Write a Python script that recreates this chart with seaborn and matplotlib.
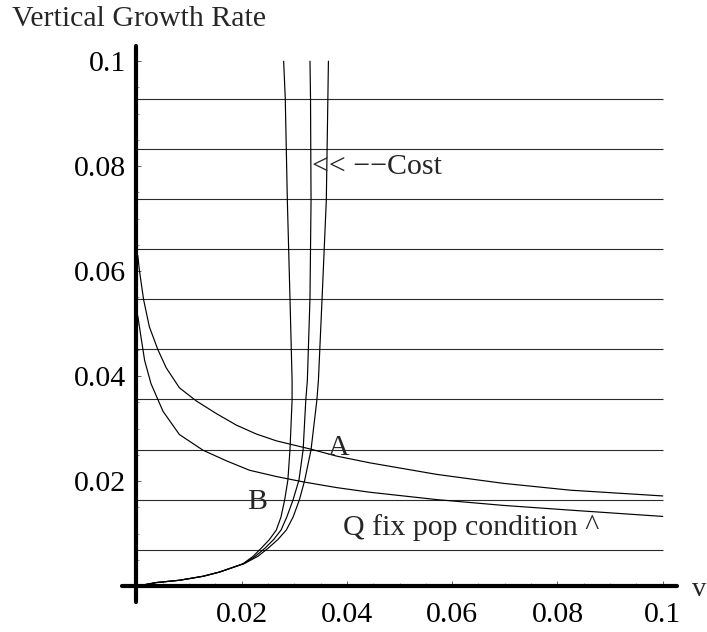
import matplotlib
matplotlib.use("Agg")
import matplotlib.pyplot as plt
import seaborn as sns
from matplotlib.ticker import FixedLocator, FixedFormatter, MultipleLocator

# ---------------- data ----------------
grid_levels = [0.0069, 0.0164, 0.0260, 0.0356, 0.0451, 0.0547, 0.0642, 0.0737, 0.0833, 0.0929]

cost_y = [0, 0.0007, 0.00114, 0.0019, 0.0027, 0.0036, 0.0043, 0.0057, 0.0072, 0.0089,
          0.0107, 0.0132, 0.0165, 0.0202, 0.0260, 0.0354, 0.0392, 0.0549, 0.0735, 0.0931, 0.1]
cost_left_x = [0, 0.0038, 0.0082, 0.0127, 0.0158, 0.0184, 0.0203, 0.0222, 0.0237, 0.0253,
               0.0266, 0.0275, 0.0282, 0.0288, 0.0292, 0.0296, 0.0296, 0.0292, 0.0287, 0.0283, 0.0280]
cost_mid_x = [0, 0.0038, 0.0082, 0.0127, 0.0158, 0.0184, 0.0204, 0.0226, 0.0244, 0.0261,
              0.0275, 0.0286, 0.0298, 0.0309, 0.0317, 0.0322, 0.0325, 0.0330, 0.0332, 0.0331, 0.0330]
cost_right_x = [0, 0.0038, 0.0082, 0.0127, 0.0158, 0.0184, 0.0205, 0.0231, 0.0250, 0.0269,
                0.0285, 0.0298, 0.0310, 0.0320, 0.0332, 0.0343, 0.0346, 0.0353, 0.0361, 0.0364, 0.0365]

qa_x = [0.0003, 0.0006, 0.0014, 0.0025, 0.0041, 0.0057, 0.0082, 0.0114, 0.0152, 0.0190,
        0.0228, 0.0266, 0.0332, 0.0380, 0.0444, 0.0571, 0.0697, 0.0824, 0.1]
qa_y = [0.0630, 0.0602, 0.0546, 0.0494, 0.0451, 0.0416, 0.0378, 0.0353, 0.0329, 0.0307,
        0.0290, 0.0277, 0.0261, 0.0248, 0.0235, 0.0213, 0.0196, 0.0183, 0.0172]

qb_x = [0.0003, 0.0009, 0.0016, 0.0028, 0.0051, 0.0082, 0.0127, 0.0171, 0.0215, 0.0266,
        0.0316, 0.0380, 0.0444, 0.0571, 0.0697, 0.0824, 0.1]
qb_y = [0.0515, 0.0475, 0.0430, 0.0386, 0.0333, 0.0289, 0.0259, 0.0239, 0.0221, 0.0209,
        0.0199, 0.0188, 0.0179, 0.0165, 0.0154, 0.0145, 0.0133]

xtick_vals = [0.02, 0.04, 0.06, 0.08, 0.1]
xtick_labels = ["0.02", "0.04", "0.06", "0.08", "0.1"]
ytick_vals = [0.02, 0.04, 0.06, 0.08, 0.1]
ytick_labels = ["0.02", "0.04", "0.06", "0.08", "0.1"]

# ---------------- figure ----------------
sns.set_theme(style="white")
plt.rcParams['font.family'] = ['Liberation Serif', 'DejaVu Serif']
FS = 21.5

fig = plt.figure(figsize=(7.07, 6.32), dpi=100)
ax = fig.add_axes([122 / 707, (632 - 602) / 632, 555 / 707, 556 / 632])
ax.set_facecolor("white")

ax.hlines(grid_levels, 0, 0.1, colors="#2a2a2a", linewidth=0.8)

line_kw = dict(color="black", linewidth=0.85, sort=False, estimator=None, ax=ax)
for xs in (cost_left_x, cost_mid_x, cost_right_x):
    sns.lineplot(x=xs, y=cost_y, **line_kw)
sns.lineplot(x=qa_x, y=qa_y, **line_kw)
sns.lineplot(x=qb_x, y=qb_y, **line_kw)

ax.set_xlim(-0.0027, 0.1027)
ax.set_ylim(-0.003, 0.1029)

for s in ("top", "right"):
    ax.spines[s].set_visible(False)
for s in ("left", "bottom"):
    ax.spines[s].set_position(("data", 0))
    ax.spines[s].set_linewidth(3.0)
    ax.spines[s].set_color("black")
    ax.spines[s].set_capstyle("round")

ax.xaxis.set_major_locator(FixedLocator(xtick_vals))
ax.xaxis.set_major_formatter(FixedFormatter(xtick_labels))
ax.yaxis.set_major_locator(FixedLocator(ytick_vals))
ax.yaxis.set_major_formatter(FixedFormatter(ytick_labels))
ax.xaxis.set_minor_locator(MultipleLocator(0.005))
ax.yaxis.set_minor_locator(MultipleLocator(0.005))
ax.tick_params(which="major", direction="in", length=3.5, width=0.6, color="#444444",
               labelsize=FS, labelcolor="black")
ax.tick_params(which="minor", direction="in", length=2, width=0.5, color="#666666")
ax.tick_params(axis="x", which="major", pad=11)
ax.tick_params(axis="y", which="major", pad=7.5)
ax.tick_params(bottom=True, left=True, which="both")
ax.set_xlabel("")
ax.set_ylabel("")

ax.text(0.0334, 0.0799, "<< −−Cost", fontsize=FS, ha="left", va="center")
ax.text(0.0384, 0.0263, "A", fontsize=FS, ha="center", va="center")
ax.text(0.0230, 0.0161, "B", fontsize=FS, ha="center", va="center")
ax.text(0.0392, 0.0112, "Q fix pop condition ^", fontsize=FS, ha="left", va="center")

fig.text(692 / 707, (632 - 589) / 632, "v", fontsize=FS - 1, ha="left", va="center")
fig.text(12 / 707, (632 - 25.5) / 632, "Vertical Growth Rate", fontsize=FS,
         ha="left", va="baseline")

fig.savefig("out.png", dpi=100, facecolor="white")
